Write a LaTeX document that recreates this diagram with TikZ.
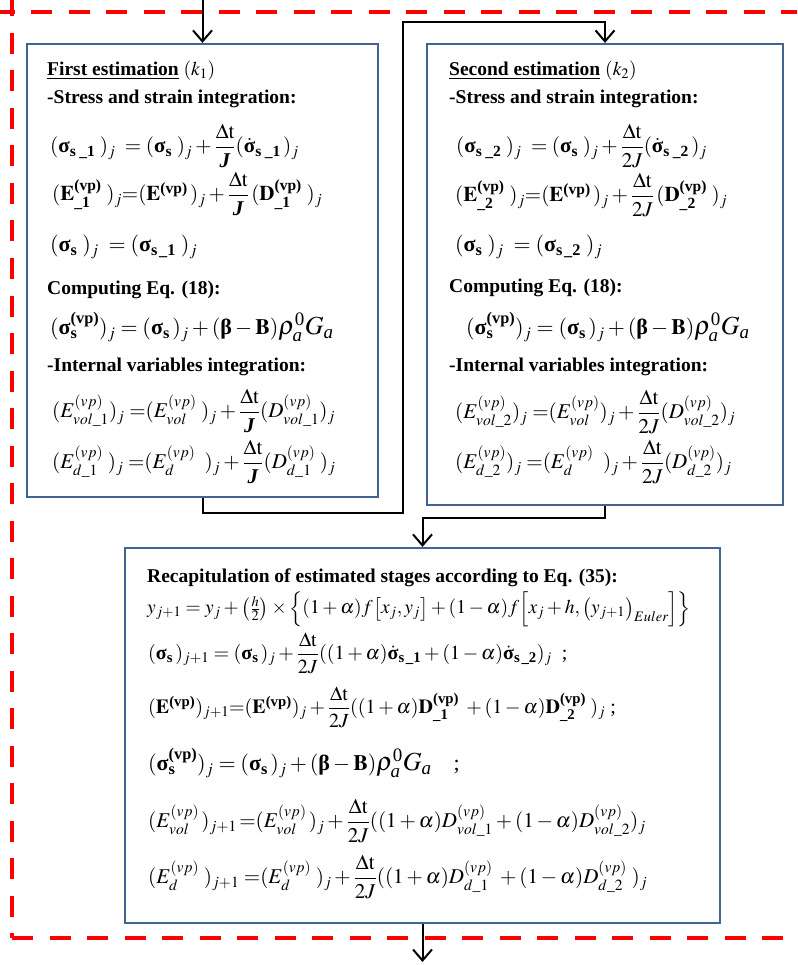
\documentclass[tikz,border=0pt]{standalone}
\usepackage{amsmath}
\usepackage{mathptmx}
\usepackage{fontspec}
\setmainfont{Liberation Serif}
\usetikzlibrary{arrows.meta}
\definecolor{boxblue}{RGB}{65,100,145}
\newcommand{\bsg}{\textbf{σ}}
\newcommand{\bdsg}{\dot{\textbf{σ}}}
\newcommand{\bJ}{\textbf{\textit{J}}}
\newcommand{\mydt}{\Delta\mathrm{t}}
\newcommand{\vpb}{\textbf{(vp)}}
\newcommand{\bbet}{\textbf{β}}
\newcommand{\subsz}[1]{\mbox{\fontsize{19}{19}\selectfont #1}}
\newcommand{\rhoG}{\mbox{\fontsize{26}{26}\selectfont$\rho^{\subsz{0}}_{\subsz{\itshape a}}G_{\subsz{\itshape a}}$}}
\tikzset{
  bbox/.style={draw=boxblue, line width=2.2pt, fill=white, inner sep=0pt},
  head/.style={anchor=west, inner sep=0pt, font=\fontsize{19.5}{22}\selectfont\bfseries},
  eq/.style={anchor=west, inner sep=0pt, font=\fontsize{21}{24}\selectfont},
  eqmid/.style={anchor=west, inner sep=0pt, font=\fontsize{20}{23}\selectfont},
  eqsmall/.style={anchor=west, inner sep=0pt, font=\fontsize{19.5}{22}\selectfont},
  eqbig/.style={anchor=west, inner sep=0pt, font=\fontsize{22}{25}\selectfont},
  conn/.style={draw=black, line width=2pt, -{Straight Barb[length=11pt,width=19pt]}},
  reddash/.style={draw=red, line width=4pt, dash pattern=on 21pt off 16.5pt}
}
\begin{document}
\begin{tikzpicture}[x=1pt,y=-1pt]
\useasboundingbox (0,0) rectangle (797,965);
% red dashed frame
\draw[reddash] (-6.5,12) -- (797,12);
\draw[reddash] (12,-4.5) -- (12,938);
\draw[reddash] (12,938) -- (797,938);
% boxes
\node[bbox, minimum width=351pt, minimum height=453pt] (b1) at (202.5,270.5) {};
\node[bbox, minimum width=356pt, minimum height=461pt] (b2) at (605,274.5) {};
\node[bbox, minimum width=595pt, minimum height=375pt] (b3) at (422.5,735.5) {};
% connectors
\coordinate (in) at (202.5,0);
\coordinate (c1) at (403,513);
\coordinate (c2) at (403,22);
\coordinate (c3) at (422.5,518);
\coordinate (out) at (422.5,962);
\draw[conn] (in) -- (b1.north);
\draw[conn] (b1.south) |- (c1) -- (c2) -| (b2.north);
\draw[conn] (b2.south) |- (c3) -- (b3.north);
\draw[conn] (b3.south) -- (out);
% box 1
\node[head] (t1) at (47,71) {\underline{First estimation} \mdseries$(k_1)$};
\node[head] (s1) at (47,99) {-Stress and strain integration:};
\node[eq] (e11) at (50,146) {$(\bsg_{\textbf{s}\;\textbf{\_1}}\;)_j\; = (\bsg_{\textbf{s}}\;)_j + \dfrac{\mydt}{\bJ}(\bdsg_{\textbf{s}\;\textbf{\_1}}\,)_j$};
\node[eq] (e12) at (52,194) {$(\mathbf{E}^{\vpb}_{\textbf{\_1}}\;)_j{=}(\mathbf{E}^{\vpb}\,)_j + \dfrac{\mydt}{\bJ}\,(\mathbf{D}^{\vpb}_{\textbf{\_1}}\;)_j$};
\node[eqbig] (e13) at (50,247) {$(\bsg_{\textbf{s}}\;)_j\; = (\bsg_{\textbf{s}\,\textbf{\_1}}\;)_j$};
\node[head] (c1t) at (47,290) {Computing Eq. (18):};
\node[eqbig] (e14) at (50,327) {$(\bsg^{\vpb}_{\textbf{s}})_j = (\bsg_{\textbf{s}}\,)_j + (\bbet - \mathbf{B})\rhoG$};
\node[head] (i1) at (47,367) {-Internal variables integration:};
\node[eq] (e15) at (52,411) {$(E^{(vp)}_{vol\_1})_j\;{=}(E^{(vp)}_{vol}\;)_j + \dfrac{\mydt}{\bJ}(D^{(vp)}_{vol\_1})_j$};
\node[eq] (e16) at (52,462) {$(E^{(vp)}_{d\_1}\;)_j\;{=}(E^{(vp)}_{d}\;\;)_j + \dfrac{\mydt}{\bJ}(D^{(vp)}_{d\_1}\;)_j$};
% box 2
\node[head] (t2) at (449,71) {\underline{Second estimation} \mdseries$(k_2)$};
\node[head] (s2) at (449,99) {-Stress and strain integration:};
\node[eq] (e21) at (456,146) {$(\bsg_{\textbf{s}\;\textbf{\_2}}\;)_j\; = (\bsg_{\textbf{s}}\;)_j + \dfrac{\mydt}{2J}(\bdsg_{\textbf{s}\;\textbf{\_2}}\,)_j$};
\node[eq] (e22) at (455,195) {$(\mathbf{E}^{\vpb}_{\textbf{\_2}}\;)_j{=}(\mathbf{E}^{\vpb}\,)_j + \dfrac{\mydt}{2J}\,(\mathbf{D}^{\vpb}_{\textbf{\_2}}\;)_j$};
\node[eqbig] (e23) at (455,247) {$(\bsg_{\textbf{s}}\;)_j\; = (\bsg_{\textbf{s}\,\textbf{\_2}}\;)_j$};
\node[head] (c2t) at (449,288) {Computing Eq. (18):};
\node[eqbig] (e24) at (466,327) {$(\bsg^{\vpb}_{\textbf{s}})_j = (\bsg_{\textbf{s}}\,)_j + (\bbet - \mathbf{B})\rhoG$};
\node[head] (i2) at (449,367) {-Internal variables integration:};
\node[eq] (e25) at (455,412) {$(E^{(vp)}_{vol\_2})_j\;{=}(E^{(vp)}_{vol})_j + \dfrac{\mydt}{2J}(D^{(vp)}_{vol\_2})_j$};
\node[eq] (e26) at (455,462) {$(E^{(vp)}_{d\_2})_j\;{=}(E^{(vp)}_{d}\;\;)_j + \dfrac{\mydt}{2J}(D^{(vp)}_{d\_2})_j$};
% box 3
\node[head] (r3) at (147,578) {Recapitulation of estimated stages according to Eq. (35):};
\node[eqsmall] (e30) at (147,609) {$y_{j+1} = y_j + \big(\tfrac{h}{2}\big) \times \Big\{(1+\alpha)f\big[x_j, y_j\big] + (1-\alpha)f\Big[x_j + h, \big(y_{j+1}\big)_{Euler}\Big]\Big\}$};
\node[eqmid] (e31) at (148,653) {$(\bsg_{\textbf{s}}\,)_{j+1} = (\bsg_{\textbf{s}}\,)_j + \dfrac{\mydt}{2J}((1+\alpha)\bdsg_{\textbf{s}\,\textbf{\_1}} + (1-\alpha)\bdsg_{\textbf{s}\,\textbf{\_2}})_j$\ \ ;};
\node[eqmid] (e32) at (148,707) {$(\mathbf{E}^{\vpb})_{j+1}{=}(\mathbf{E}^{\vpb})_j + \dfrac{\mydt}{2J}((1+\alpha)\mathbf{D}^{\vpb}_{\textbf{\_1}}\; + (1-\alpha)\mathbf{D}^{\vpb}_{\textbf{\_2}}\;)_j$\ ;};
\node[eqbig] (e33) at (148,763) {$(\bsg^{\vpb}_{\textbf{s}})_j = (\bsg_{\textbf{s}}\,)_j + (\bbet - \mathbf{B})\rhoG$\quad;};
\node[eq] (e34) at (148,821) {$(E^{(vp)}_{vol}\,)_{j+1}\,{=}(E^{(vp)}_{vol}\,)_j + \dfrac{\mydt}{2J}((1+\alpha)D^{(vp)}_{vol\_1} + (1-\alpha)D^{(vp)}_{vol\_2})_j$};
\node[eq] (e35) at (148,877) {$(E^{(vp)}_{d}\;)_{j+1}\;{=}(E^{(vp)}_{d}\;)_j + \dfrac{\mydt}{2J}((1+\alpha)D^{(vp)}_{d\_1}\; + (1-\alpha)D^{(vp)}_{d\_2}\;)_j$};
\end{tikzpicture}
\end{document}
